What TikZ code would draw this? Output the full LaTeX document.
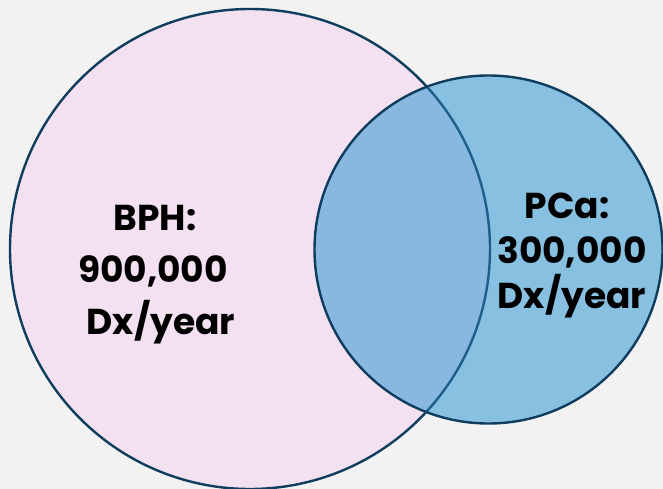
\documentclass[tikz,border=0pt]{standalone}
\usepackage{fontspec}
\setmainfont{Poppins}
\definecolor{bgc}{HTML}{F2F2F2}
\definecolor{pinkc}{HTML}{F3E0F0}
\definecolor{bluec}{HTML}{87C0E1}
\definecolor{overc}{HTML}{88B8E0}
\definecolor{edgec}{HTML}{0E3D5E}
\definecolor{inedgec}{HTML}{1D5E8A}
\tikzset{
  outline/.style={draw=edgec, line width=2.4pt},
  lbl/.style={font=\bfseries\fontsize{36}{44}\selectfont, text=black, anchor=base, inner sep=0pt}
}
\begin{document}
\begin{tikzpicture}[x=1pt,y=-1pt]
\fill[bgc] (0,0) rectangle (663,489);
\useasboundingbox (0,0) rectangle (663,489);
\coordinate (cb) at (250,249);
\coordinate (cs) at (488.5,249.5);
\fill[pinkc] (cb) circle (240pt);
\draw[outline] (cb) circle (240pt);
\fill[bluec] (cs) circle (174pt);
\begin{scope}
  \clip (cb) circle (240pt);
  \fill[overc] (cs) circle (174pt);
\end{scope}
\begin{scope}
  \clip (cs) circle (174pt);
  \draw[draw=inedgec, line width=2.4pt] (cb) circle (240pt);
\end{scope}
\draw[outline] (cs) circle (174pt);
\node[lbl] (b1) at (155,230) {BPH:};
\node[lbl] (b2) at (153,282) {900,000};
\node[lbl] (b3) at (161,334) {Dx/year};
\node[lbl] (p1) at (567,218) {PCa:};
\node[lbl] (p2) at (572,263) {300,000};
\node[lbl] (p3) at (572,308) {Dx/year};
\end{tikzpicture}
\end{document}
